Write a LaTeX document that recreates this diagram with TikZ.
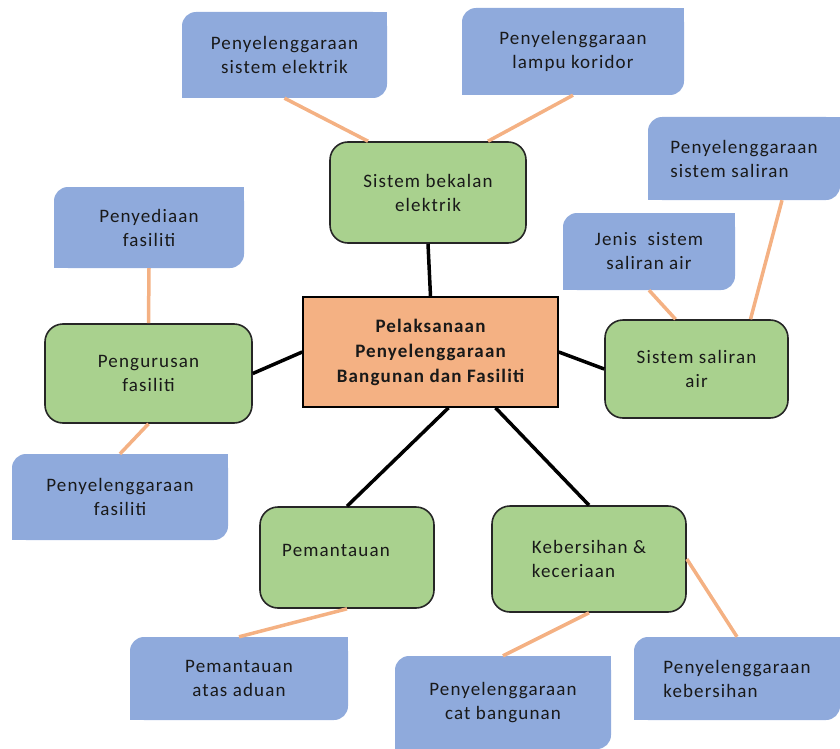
\documentclass[tikz,border=0pt]{standalone}
\usepackage{fontspec}
\setmainfont{Carlito}[LetterSpace=6]
\usepackage{tikz}
\usetikzlibrary{positioning,arrows.meta}
\usepackage{xcolor}
\definecolor{leafblue}{HTML}{8FAADC}
\definecolor{topicgreen}{HTML}{A9D18E}
\definecolor{hubpeach}{HTML}{F4B183}
\definecolor{linkpeach}{HTML}{F4B183}

\begin{document}
\begin{tikzpicture}[x=1pt,y=-1pt,
  font=\fontsize{19pt}{24pt}\selectfont,
  leaf/.style={fill=leafblue, rounded corners=14pt, inner sep=0pt, align=center, text=black!90,
    append after command={\pgfextra{
      \fill[leafblue, sharp corners] (\tikzlastnode.north east) rectangle ([xshift=-16pt,yshift=-16pt]\tikzlastnode.north east);
      \fill[leafblue, sharp corners] (\tikzlastnode.south west) rectangle ([xshift=16pt,yshift=16pt]\tikzlastnode.south west);}}},
  topic/.style={fill=topicgreen, draw=black!85, line width=1.6pt, rounded corners=18pt, inner sep=0pt, align=center, text=black!90},
  hub/.style={fill=hubpeach, draw=black, line width=1.6pt, inner sep=0pt, align=center, text=black!90, font=\fontsize{19pt}{25pt}\selectfont\bfseries},
  spoke/.style={line width=3.5pt, black},
  twig/.style={line width=3.5pt, linkpeach},
]
\useasboundingbox (0,0) rectangle (840,749);

% centre and main topics
\node[hub, minimum width=255, minimum height=110] (hub) at (430.5,352) {Pelaksanaan\\Penyelenggaraan\\Bangunan dan Fasiliti};
\node[topic, minimum width=196, minimum height=101] (elec) at (428,192.5) {Sistem bekalan\\elektrik};
\node[topic, minimum width=207, minimum height=99] (peng) at (148.5,373.5) {Pengurusan\\fasiliti};
\node[topic, minimum width=183, minimum height=98] (sal) at (696.5,369) {Sistem saliran\\air};
\node[topic, minimum width=174, minimum height=101] (pem) at (347,557.5) {\raisebox{14pt}{Pemantauan}\hspace*{22pt}};
\node[topic, minimum width=194, minimum height=106, align=left] (keb) at (589,559) {Kebersihan \&\\keceriaan};

% sub topics
\node[leaf, minimum width=205, minimum height=86] (sysel) at (284.5,55) {Penyelenggaraan\\sistem elektrik};
\node[leaf, minimum width=222, minimum height=87] (lamp) at (573,51.5) {Penyelenggaraan\\lampu koridor};
\node[leaf, minimum width=192, minimum height=83, align=left] (drain) at (744,158.5) {Penyelenggaraan\\sistem saliran};
\node[leaf, minimum width=172, minimum height=77] (jenis) at (649,251.5) {Jenis\ \ sistem\\saliran air};
\node[leaf, minimum width=190, minimum height=81] (sedia) at (149,227.5) {Penyediaan\\fasiliti};
\node[leaf, minimum width=216, minimum height=86] (fasil) at (120,497) {Penyelenggaraan\\fasiliti};
\node[leaf, minimum width=218, minimum height=83] (aduan) at (239,678.5) {Pemantauan\\atas aduan};
\node[leaf, minimum width=216, minimum height=93] (cat) at (503,702.5) {Penyelenggaraan\\cat bangunan};
\node[leaf, minimum width=206, minimum height=83, align=left] (clean) at (737,678.5) {Penyelenggaraan\\kebersihan};

\draw[spoke] (hub.north) -- (elec.south);
\draw[spoke] (hub.west) -- (peng.east);
\draw[spoke] (hub.east) -- (sal.west);
\draw[spoke] ([xshift=18pt]hub.south) -- (pem.north);
\draw[spoke] ([xshift=65pt]hub.south) -- (keb.north);

\draw[twig] (sysel.south) -- ([xshift=-60pt]elec.north);
\draw[twig] (lamp.south) -- ([xshift=60pt]elec.north);
\draw[twig] ([xshift=38pt]drain.south) -- ([xshift=54pt]sal.north);
\draw[twig] (jenis.south) -- ([xshift=-21pt]sal.north);
\draw[twig] (sedia.south) -- (peng.north);
\draw[twig] (peng.south) -- (fasil.north);
\draw[twig] (pem.south) -- (aduan.north);
\draw[twig] (keb.south) -- (cat.north);
\draw[twig] (keb.east) -- (clean.north);

\end{tikzpicture}
\end{document}
